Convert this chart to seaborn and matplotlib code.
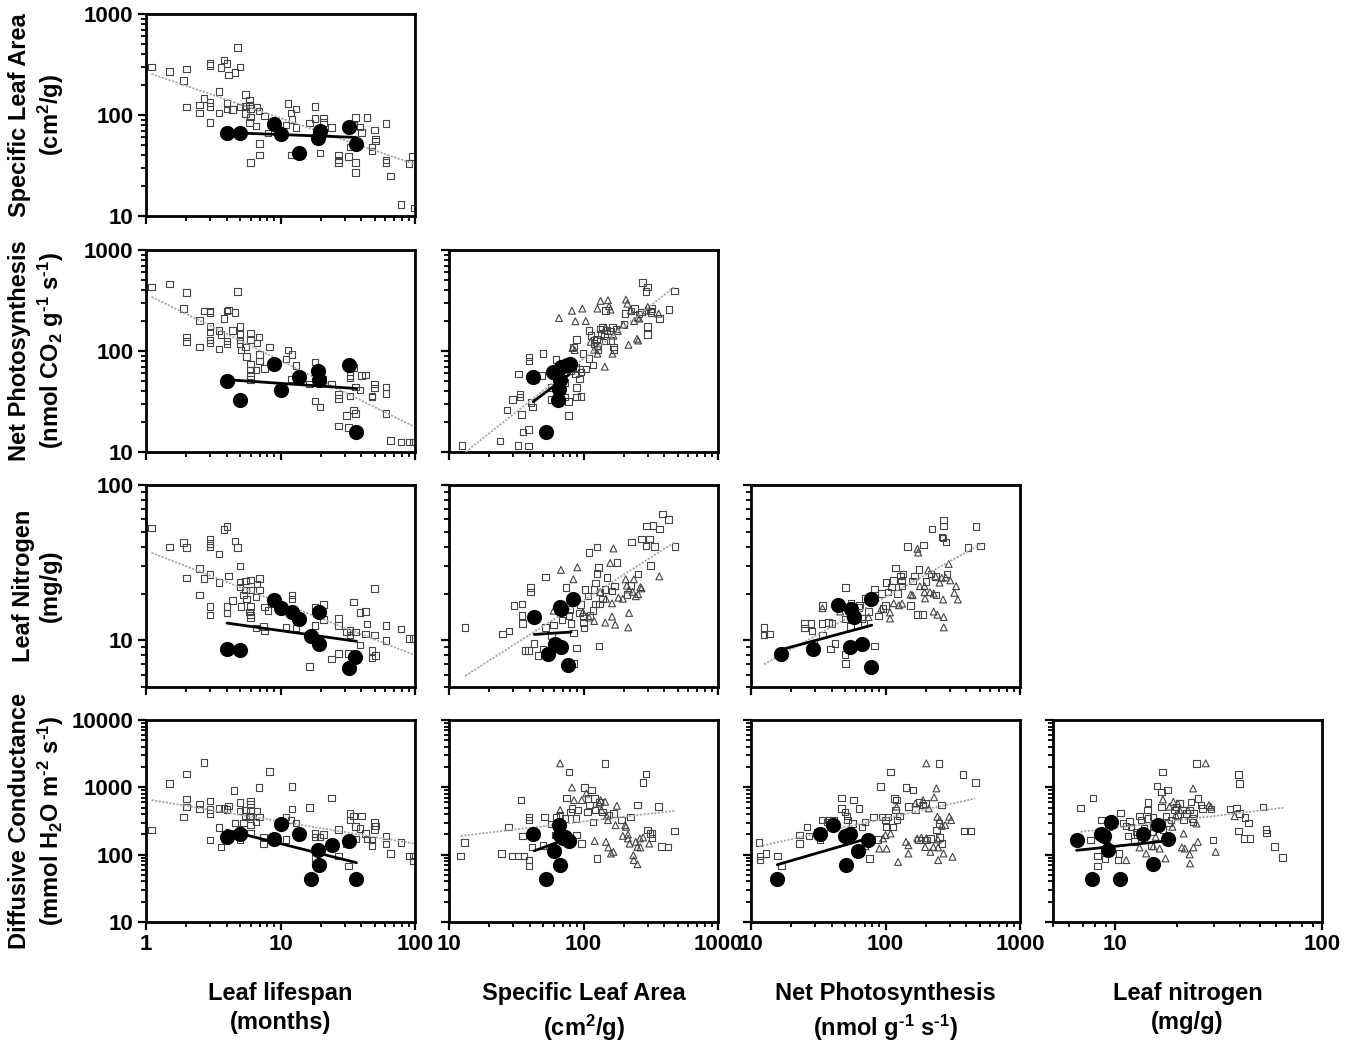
import numpy as np
import matplotlib
matplotlib.use("Agg")
import matplotlib.pyplot as plt
from matplotlib.ticker import LogLocator, NullFormatter, FuncFormatter
import seaborn as sns

# ---- data (x, y) ----
# row 0: specific leaf area vs leaf lifespan
sla_ls_open = [(1.1, 300), (1.5, 270), (1.9, 220), (2.0, 285), (2.0, 120), (2.5, 125), (2.5, 105), (2.7, 145),
               (3.0, 325), (3.0, 310), (3.0, 133), (3.0, 122), (3.0, 84), (3.5, 170), (3.5, 105), (3.6, 295),
               (3.8, 350), (4.0, 325), (4.1, 250), (4.0, 130), (4.0, 115), (4.6, 265), (4.8, 465), (5.0, 300),
               (4.4, 113), (5.0, 120), (5.5, 160), (5.5, 123), (5.5, 104), (5.9, 140), (5.9, 125), (6.0, 116),
               (6.0, 96), (5.9, 84), (6.0, 34), (6.6, 78), (6.7, 120), (6.9, 110), (7.0, 52), (7.0, 40),
               (7.6, 98), (8.1, 66), (11, 80), (11.4, 130), (12, 105), (12.2, 90), (13, 115), (13, 75), (12, 40),
               (16.5, 83), (18, 122), (18, 92), (19.7, 42), (20.8, 93), (20.8, 84), (24, 75), (27, 40), (27, 36),
               (27, 34), (32, 39), (33, 48), (35, 80), (36, 94), (36, 34), (36, 27), (39, 76), (40, 67), (48, 48),
               (48, 44), (50, 71), (51, 58), (51, 55), (44, 94), (61, 82), (61, 36), (61, 34), (66, 25), (79, 13),
               (90, 33), (96, 39), (99, 12)]
sla_ls_filled = [(4.0, 67), (5.0, 66), (9, 81), (10.1, 65), (13.8, 42), (19.6, 70), (19, 59), (32.4, 76), (36.7, 52)]
sla_ls_fit_all = [(1.1, 255), (97, 33)]
sla_ls_fit_sub = [(4.0, 67), (36.7, 60)]

# row 1: net photosynthesis vs leaf lifespan / SLA
an_ls_open = [(1.1, 430), (1.5, 460), (2.0, 380), (1.9, 265), (2.0, 138), (2.0, 124), (2.5, 200), (2.5, 110),
              (2.7, 250), (3.0, 250), (3.0, 240), (3.0, 175), (3.0, 155), (3.0, 128), (3.0, 120), (3.5, 160),
              (3.5, 105), (3.6, 145), (3.8, 210), (4.0, 250), (4.1, 255), (4.0, 125), (4.0, 117), (4.6, 240),
              (4.8, 390), (4.4, 160), (5.0, 175), (5.0, 145), (5.0, 128), (5.0, 118), (5.1, 102), (5.6, 88),
              (5.5, 110), (6.0, 150), (6.0, 128), (6.0, 74), (6.0, 65), (6.0, 57), (6.0, 52), (6.6, 65),
              (6.7, 120), (6.9, 138), (7.0, 92), (7.0, 80), (7.6, 67), (8.3, 110), (11, 83), (11.4, 102),
              (12.2, 92), (12, 53), (13, 72), (16.5, 47), (18, 78), (18, 32), (19.7, 28), (20.6, 52), (24, 47),
              (27, 37), (27, 34), (27, 18), (31, 23), (32, 17.5), (33, 57), (33, 54), (33, 36), (35, 69), (35, 26),
              (36, 24), (36, 44), (39, 41), (40, 57), (43, 58), (48, 36), (48, 35), (50, 47), (50, 43), (61, 44),
              (61, 38), (61, 24), (66, 13), (79, 12.5), (90, 12.5), (97, 12.5)]
an_ls_filled = [(4.0, 51), (5.0, 32.5), (9, 75), (10.1, 41), (13.8, 55), (19, 64), (19.4, 52), (32.4, 72), (36.7, 15.8)]
an_ls_fit_all = [(1.1, 344), (97, 18)]
an_ls_fit_sub = [(4.0, 52), (36.7, 42.5)]

an_sla_open = [(12.5, 11.6), (24, 12.8), (32.6, 11.6), (39, 11.5), (35.5, 15.7), (39, 16.7), (27, 26), (29.6, 33),
               (33, 59), (33.6, 37.5), (33.6, 35), (34.5, 23.5), (39.5, 87), (39.5, 80), (40.6, 31), (41.8, 28),
               (48.9, 57), (50, 94), (57.5, 33), (62.5, 82), (57.5, 43.6), (65, 59), (73, 49), (73, 35),
               (77.5, 31.5), (77.5, 23), (80, 64), (82, 67), (84, 109), (87, 59), (89, 43.6), (87, 68.5),
               (93.5, 66), (93.5, 53), (96, 62), (89, 35), (96, 35.5), (89, 130), (99, 94), (104, 66), (110, 84),
               (110, 160), (114, 142), (118, 73), (120, 118), (120, 129), (125, 132), (127, 112), (128, 103),
               (133, 166), (135, 146), (139, 172), (143, 141), (146, 127), (150, 160), (159, 127), (159, 158),
               (164, 170), (167, 110), (168, 104), (146, 253), (174, 166), (200, 182), (204, 234), (225, 248),
               (240, 263), (259, 232), (270, 244), (275, 477), (292, 390), (300, 431), (300, 145), (300, 175),
               (314, 250), (318, 240), (324, 263), (366, 209), (432, 257), (473, 394)]
an_sla_tri = [(65.7, 212), (82, 250), (87, 197), (98, 263), (104, 198), (83, 107), (86, 102), (127, 263), (134, 313),
              (152, 318), (159, 257), (155, 277), (146, 170), (167, 142), (180, 158), (198, 182), (207, 323),
              (212, 294), (225, 252), (238, 198), (253, 214), (260, 209), (250, 132), (255, 127), (216, 115),
              (164, 94), (144, 70), (128, 111), (120, 103), (113, 123), (127, 94), (292, 252), (362, 234), (300, 273)]
an_sla_filled = [(42.3, 55), (52.5, 15.6), (59, 62.5), (67, 52), (66, 42), (65, 33), (75, 72), (80, 74), (68, 69)]
an_sla_fit_all = [(13.3, 10), (473, 431)]
an_sla_fit_sub = [(42.3, 31.5), (79, 59)]

# row 2: leaf nitrogen vs leaf lifespan / SLA / net photosynthesis
n_ls_open = [(1.1, 53), (1.5, 40), (1.9, 42.5), (2.0, 39.5), (2.0, 25.2), (2.5, 29), (2.5, 19.5), (2.7, 25),
             (3.0, 45), (3.0, 42), (3.0, 40), (3.0, 26.5), (3.0, 16.5), (3.0, 14.5), (3.5, 36), (3.5, 23.5),
             (3.8, 51.5), (4.0, 54), (4.1, 26), (4.0, 16.5), (4.0, 15), (4.6, 43.5), (4.8, 39.5), (4.4, 18),
             (5.0, 30), (5.0, 23.8), (5.0, 22), (5.1, 16.5), (5.3, 19.5), (5.5, 24), (5.5, 21), (5.6, 18.5),
             (5.9, 15.2), (6.0, 24.5), (6.0, 21), (6.0, 16.5), (6.0, 14.5), (6.0, 14), (6.6, 19), (6.7, 23),
             (7.0, 25), (7.0, 21), (6.6, 12), (7.5, 12.3), (7.6, 11.5), (7.6, 16.4), (8.1, 15.5), (11, 12.2),
             (12.2, 19.5), (12.2, 18.5), (13, 12), (16.5, 6.8), (18, 16.4), (18, 12.4), (20.8, 17), (20.8, 13.6),
             (24, 7.6), (27, 8.2), (27, 13.8), (27, 12.4), (31, 11.3), (32, 8.2), (33, 11.6), (33, 10.8),
             (35, 17.6), (36, 11.3), (39, 9.3), (39, 15.1), (43, 15.3), (44, 12.7), (43, 11), (50, 21.5),
             (48, 8.6), (48, 7.7), (50, 10.8), (51, 8), (61, 12.4), (61, 10), (79, 11.8), (90, 10.3), (97, 10.3)]
n_ls_filled = [(4.0, 8.8), (5.0, 8.6), (9, 18.1), (10.1, 16.2), (12.1, 15.1), (13.8, 13.7), (16.8, 10.6),
               (19.2, 9.4), (19.2, 15.3), (32.4, 6.6), (36, 7.8)]
n_ls_fit_all = [(1.1, 36.6), (97, 8.1)]
n_ls_fit_sub = [(4.0, 12.9), (36.7, 9.85)]

n_sla_open = [(13.2, 12.1), (25, 11), (28, 11.5), (30.5, 16.8), (35, 17.1), (35, 14.4), (35.3, 12.8), (36.6, 8.6),
              (39, 8.6), (40.5, 20.4), (40.5, 21.9), (43, 9.5), (46, 8), (50, 8.8), (52, 25.5), (52, 12.1),
              (58, 10.7), (60, 12.5), (74, 21.9), (69, 13.5), (78, 14.4), (79, 15.8), (81, 12.8), (84, 11.1),
              (85, 7.1), (89, 8.9), (93, 15), (95, 17), (99, 14.2), (100, 13), (101, 12), (103, 21.2), (108, 19.3),
              (110, 36.7), (112, 14.4), (118, 15.6), (120, 21.2), (123, 23.3), (123, 17.1), (126, 40), (126, 27),
              (129, 29.5), (130, 9.2), (132, 17.1), (133, 20.4), (138, 18.5), (150, 25.4), (145, 21.2),
              (163, 20.7), (170, 22.3), (178, 31.7), (210, 19.7), (225, 22.5), (228, 43), (255, 26.7),
              (270, 44.8), (292, 40.6), (295, 54.3), (310, 44.8), (315, 30.2), (330, 55), (338, 40.2), (366, 52),
              (386, 65), (430, 60), (480, 40.2)]
n_sla_tri = [(60, 15.5), (68, 28.4), (84, 24.7), (90, 29.5), (158, 31.5), (167, 39), (133, 20.4), (120, 13.3),
             (145, 13), (163, 14.2), (163, 17.3), (172, 12.6), (182, 18.8), (206, 24.7), (210, 22.5), (218, 21.2),
             (218, 15), (215, 12.1), (232, 20.5), (237, 24.7), (245, 19.2), (255, 19.8), (265, 22), (270, 21.6),
             (366, 25.8), (147, 18.5), (196, 18.5), (110, 14), (99, 15.2)]
n_sla_filled = [(43, 14.1), (67, 16.4), (68, 15.8), (83, 18.4), (61, 9.5), (68, 9.0), (54, 8.1), (77, 6.9)]
n_sla_fit_all = [(13.2, 5.9), (480, 43)]
n_sla_fit_sub = [(43, 10.9), (81, 11.3)]

n_an_open = [(12.5, 12.1), (12.5, 10.8), (13.7, 11), (24.9, 12.8), (24.9, 12), (28, 12.8), (28.4, 11.5), (29.5, 9.5),
             (33.7, 12.8), (34, 16.8), (34, 10.8), (37.6, 13), (39, 8.8), (40, 12.8), (42, 9.5), (50.4, 21.9),
             (50, 8.1), (50.4, 7.1), (50, 13.7), (55, 12.3), (55.6, 17.3), (57.6, 15.1), (63.6, 16.2), (64, 16.8),
             (67, 13.8), (69, 12.8), (70.5, 18.6), (74.9, 15.3), (82.6, 21.4), (83, 9.2), (89, 14.3), (93, 20),
             (96, 16), (100, 16.8), (101, 23.5), (104, 20.4), (111, 22.1), (115, 24.2), (119, 29.3), (123, 20),
             (129, 26), (131, 24), (133, 22.3), (135, 26.8), (146, 40.2), (154, 16.8), (159, 24), (164, 26),
             (173, 14.6), (178, 28.6), (188, 14.6), (192, 41), (200, 23.9), (218, 26.8), (221, 52), (235, 25.8),
             (237, 19.5), (264, 46.2), (268, 45.5), (271, 59.3), (271, 54.3), (282, 43), (286, 26.8),
             (410, 39.6), (470, 54), (510, 40.6)]
n_an_tri = [(34, 16.1), (46, 15.3), (59, 13.8), (74.9, 14.1), (93, 16), (108, 13.8), (108, 15.1), (115, 17.3),
            (126, 16.8), (133, 17.2), (159, 19.5), (173, 38.8), (175, 36.7), (180, 22.3), (195, 20.4), (197, 18.6),
            (208, 28.3), (214, 20.4), (228, 20), (228, 15.3), (235, 25.8), (243, 14.6), (252, 23.5), (262, 25.2),
            (268, 18.3), (271, 14.1), (271, 12.1), (280, 25.4), (295, 31), (303, 24.3), (325, 20.2), (335, 22.3),
            (345, 18.3), (154, 19.7), (195, 22.3)]
n_an_filled = [(16.8, 8.1), (29, 8.8), (44, 16.8), (55.6, 16), (58.5, 14.1), (54, 9.0), (67, 9.5), (77.5, 18.5),
               (77.5, 6.7)]
n_an_fit_all = [(12.5, 7.0), (510, 41.5)]
n_an_fit_sub = [(16.8, 8.7), (79, 12.5)]

# row 3: diffusive conductance vs leaf lifespan / SLA / net photosynthesis / leaf nitrogen
g_ls_open = [(1.1, 231), (1.5, 1140), (2.0, 1580), (2.0, 676), (2.0, 514), (1.9, 365), (2.5, 570), (2.5, 474),
             (2.7, 2320), (3.0, 625), (3.0, 470), (3.0, 410), (3.0, 164), (3.5, 485), (3.5, 254), (3.6, 130),
             (3.8, 485), (4.0, 470), (4.1, 530), (4.5, 890), (4.6, 297), (5.0, 600), (5.0, 445), (5.0, 237),
             (5.0, 164), (5.3, 297), (5.5, 458), (5.5, 375), (5.9, 375), (6.0, 630), (6.0, 560), (6.0, 450),
             (6.0, 365), (6.0, 275), (6.0, 211), (6.6, 306), (6.7, 445), (6.9, 990), (7.0, 365), (7.5, 183),
             (7.5, 145), (8.3, 1705), (11, 365), (11, 168), (12, 325), (12.2, 1020), (12.2, 480), (13, 297),
             (16.5, 500), (18, 205), (18, 183), (18, 87), (19.7, 183), (20.8, 200), (24, 700), (27, 237), (27, 96),
             (31, 145), (32, 68), (33, 410), (33, 325), (35, 375), (36, 260), (36, 172), (39, 245), (40, 375),
             (43, 205), (44, 172), (48, 164), (48, 138), (50, 300), (51, 265), (50, 237), (61, 190), (61, 145),
             (66, 104), (79, 152), (90, 96), (97, 81), (97, 96)]
g_ls_filled = [(4.0, 184), (5.0, 200), (9, 168), (10.1, 281), (13.8, 206), (19, 116), (19.4, 70), (17, 44),
               (24, 141), (32.4, 160), (36.7, 44)]
g_ls_fit_all = [(1.1, 646), (97, 147)]
g_ls_fit_sub = [(4.0, 231), (36.7, 76)]

g_sla_open = [(12.2, 96), (13, 151), (24.5, 104), (27.7, 259), (29.3, 96), (32.5, 96), (34.4, 645), (35.3, 188),
              (36, 96), (39.5, 83), (39.5, 68), (39.5, 365), (39.5, 326), (41.5, 130), (50, 138), (51.5, 365),
              (57.5, 284), (62.5, 365), (61.5, 195), (67, 386), (73, 345), (75, 700), (78, 1700), (80, 433),
              (82, 486), (89, 195), (91, 460), (88, 345), (97, 146), (102, 996), (107, 433), (108, 684), (111, 544),
              (115, 910), (118, 307), (121, 684), (122, 460), (126, 87), (131, 610), (138, 433), (145, 2270),
              (153, 386), (167, 410), (191, 326), (224, 365), (252, 544), (278, 1170), (292, 1570), (300, 231),
              (313, 206), (324, 178), (322, 206), (362, 516), (380, 133), (425, 130), (473, 226)]
g_sla_tri = [(67, 2270), (82, 996), (85, 645), (97, 645), (105, 811), (121, 160), (131, 575), (134, 645), (145, 610),
             (149, 373), (152, 326), (147, 155), (153, 128), (160, 104), (167, 110), (173, 274), (177, 532),
             (204, 274), (207, 259), (214, 174), (220, 146), (235, 98), (236, 83), (245, 155), (252, 130),
             (263, 174), (265, 128), (278, 180), (214, 199), (252, 72), (196, 190), (308, 146), (136, 460), (67, 460)]
g_sla_filled = [(42, 206), (53, 44), (60, 114), (66, 274), (67, 195), (70, 174), (67, 71), (78, 160), (73, 185)]
g_sla_fit_all = [(12.2, 190), (473, 448)]
g_sla_fit_sub = [(43, 114), (83, 184)]

g_an_open = [(11.5, 151), (11.7, 83), (11.7, 96), (12.9, 104), (15.7, 96), (16.8, 68), (22.9, 195), (22.9, 146),
             (26, 259), (26.9, 188), (31, 218), (32.6, 164), (33.7, 326), (36.7, 307), (38, 326), (41, 326),
             (47, 700), (47, 486), (50, 433), (51.7, 373), (52.4, 326), (58, 645), (57, 290), (63.5, 486),
             (67, 259), (70.5, 307), (76, 87), (81.4, 365), (88, 168), (91.5, 1020), (94, 365), (100, 326),
             (102, 259), (104, 365), (109, 1700), (113, 259), (117, 684), (119, 458), (121, 645), (122, 326),
             (127, 373), (142, 996), (160, 910), (148, 516), (167, 469), (178, 610), (176, 164), (190, 544),
             (199, 575), (201, 164), (216, 174), (239, 231), (250, 2270), (250, 290), (253, 180), (260, 544),
             (263, 146), (376, 1556), (388, 226), (428, 226), (465, 1170)]
g_an_tri = [(71, 133), (90, 123), (102, 123), (96, 174), (100, 195), (109, 206), (124, 78), (148, 138), (142, 155),
            (148, 104), (167, 575), (172, 174), (185, 180), (190, 645), (197, 130), (201, 2270), (201, 174),
            (216, 110), (227, 130), (239, 963), (243, 365), (245, 168), (246, 128), (246, 83), (253, 326),
            (263, 268), (270, 104), (278, 276), (298, 365), (308, 326), (315, 93), (210, 486), (230, 710), (121, 516)]
g_an_filled = [(15.7, 44), (32.6, 206), (41, 274), (50, 188), (54, 200), (62, 114), (51, 71), (74, 164)]
g_an_fit_all = [(11.5, 133), (465, 684)]
g_an_fit_sub = [(15.7, 71), (78, 180)]

g_n_open = [(6.8, 497), (7.6, 164), (7.8, 700), (8.2, 96), (8.2, 68), (8.6, 326), (8.9, 86), (9.3, 259), (9.1, 138),
            (10.3, 83), (10.4, 104), (10.6, 419), (10.9, 297), (11.3, 265), (11.5, 188), (11.7, 310), (11.9, 259),
            (12.4, 158), (12.6, 218), (12.8, 200), (13.1, 373), (13.3, 326), (13.8, 250), (14.4, 596), (14.3, 458),
            (14.4, 345), (14.9, 138), (15.2, 259), (15.2, 365), (15.2, 218), (15.9, 1043), (16.7, 859),
            (16.9, 1700), (16.7, 514), (17, 237), (17.6, 373), (17.9, 910), (18.1, 297), (18.6, 326), (19.3, 458),
            (19.7, 514), (20.1, 373), (20.5, 575), (21.1, 458), (21.4, 326), (22.1, 410), (22.9, 458), (23.3, 610),
            (23.6, 345), (23.8, 307), (23.9, 410), (24.7, 2270), (25.1, 684), (26, 544), (26.5, 486), (29, 474),
            (29.7, 164), (35.8, 474), (38.6, 497), (39.4, 1556), (39.8, 1140), (39.4, 223), (40, 410), (41.9, 174),
            (42.4, 356), (44, 297), (44.8, 174), (51.8, 514), (53.6, 237), (54, 211), (58.8, 133), (64.5, 90)]
g_n_tri = [(11.3, 83), (13.1, 128), (14.1, 104), (15.3, 133), (15.7, 184), (16.4, 123), (17, 660), (17.5, 88),
           (18.3, 514), (19.1, 610), (19.6, 386), (20.1, 575), (20.5, 458), (21, 128), (21.4, 206), (21.7, 123),
           (22.5, 458), (22.9, 101), (23, 74), (23.8, 961), (23.9, 128), (24.7, 290), (25.1, 155), (27.4, 2270),
           (28.4, 544), (29, 514), (30.6, 110), (37.8, 373), (18.9, 259)]
g_n_filled = [(6.5, 164), (7.7, 44), (8.5, 200), (8.8, 188), (9.5, 310), (9.2, 116), (10.5, 44), (13.6, 204),
              (15.3, 72), (16.1, 274), (17.9, 168)]
g_n_fit_all = [(6.8, 218), (65, 497)]
g_n_fit_sub = [(6.5, 116), (17, 158)]

row_labels = ["Specific Leaf Area\n(cm$^2$/g)",
              "Net Photosynthesis\n(nmol CO$_2$ g$^{\\text{-1}}$ s$^{\\text{-1}}$)",
              "Leaf Nitrogen\n(mg/g)",
              "Diffusive Conductance\n(mmol H$_2$O m$^{\\text{-2}}$ s$^{\\text{-1}}$)"]
col_labels = ["Leaf lifespan\n(months)",
              "Specific Leaf Area\n(cm$^2$/g)",
              "Net Photosynthesis\n(nmol g$^{\\text{-1}}$ s$^{\\text{-1}}$)",
              "Leaf nitrogen\n(mg/g)"]
x_limits = [(1, 100), (10, 1000), (10, 1000), (5, 100)]
y_limits = [(10, 1000), (10, 1000), (5, 100), (10, 10000)]

# (row, col, open squares, open triangles, filled circles, fit all, fit subset)
panels = [
    (0, 0, sla_ls_open, None, sla_ls_filled, sla_ls_fit_all, sla_ls_fit_sub),
    (1, 0, an_ls_open, None, an_ls_filled, an_ls_fit_all, an_ls_fit_sub),
    (1, 1, an_sla_open, an_sla_tri, an_sla_filled, an_sla_fit_all, an_sla_fit_sub),
    (2, 0, n_ls_open, None, n_ls_filled, n_ls_fit_all, n_ls_fit_sub),
    (2, 1, n_sla_open, n_sla_tri, n_sla_filled, n_sla_fit_all, n_sla_fit_sub),
    (2, 2, n_an_open, n_an_tri, n_an_filled, n_an_fit_all, n_an_fit_sub),
    (3, 0, g_ls_open, None, g_ls_filled, g_ls_fit_all, g_ls_fit_sub),
    (3, 1, g_sla_open, g_sla_tri, g_sla_filled, g_sla_fit_all, g_sla_fit_sub),
    (3, 2, g_an_open, g_an_tri, g_an_filled, g_an_fit_all, g_an_fit_sub),
    (3, 3, g_n_open, g_n_tri, g_n_filled, g_n_fit_all, g_n_fit_sub),
]

sns.set_style("ticks")
plt.rcParams["font.family"] = ["Liberation Sans", "DejaVu Sans"]
plt.rcParams["font.weight"] = "bold"
plt.rcParams["text.color"] = "black"
plt.rcParams["axes.labelcolor"] = "black"
plt.rcParams["xtick.color"] = "black"
plt.rcParams["ytick.color"] = "black"
plt.rcParams["mathtext.fontset"] = "custom"
plt.rcParams["mathtext.rm"] = "Liberation Sans:bold"
plt.rcParams["mathtext.it"] = "Liberation Sans:bold"
plt.rcParams["mathtext.bf"] = "Liberation Sans:bold"
plt.rcParams["mathtext.default"] = "rm"

FW, FH = 1350, 1041
fig = plt.figure(figsize=(FW / 100, FH / 100), dpi=100)

col_left = [146, 449, 751, 1053]
row_top = [14, 250, 485, 720]
AW, AH = 269, 202


def fmt(v, pos):
    return f"{v:g}"


for r, c, sq, tri, filled, fit_all, fit_sub in panels:
    ax = fig.add_axes([col_left[c] / FW, 1 - (row_top[r] + AH) / FH, AW / FW, AH / FH])
    ax.set_xscale("log")
    ax.set_yscale("log")

    sq = np.array(sq)
    sns.scatterplot(x=sq[:, 0], y=sq[:, 1], marker="s", s=22, facecolors="none",
                    edgecolor="#454545", linewidth=0.8, ax=ax, zorder=2)
    if tri is not None:
        tri = np.array(tri)
        sns.scatterplot(x=tri[:, 0], y=tri[:, 1], marker="^", s=24, facecolors="none",
                        edgecolor="#454545", linewidth=0.8, ax=ax, zorder=2)
    fa = np.array(fit_all)
    sns.lineplot(x=fa[:, 0], y=fa[:, 1], color="#a8a8a8", linewidth=1.3, linestyle=(0, (1.2, 0.8)),
                 estimator=None, sort=False, ax=ax, zorder=3)
    fl = np.array(filled)
    sns.scatterplot(x=fl[:, 0], y=fl[:, 1], marker="o", s=120, color="black",
                    edgecolor="black", linewidth=0, ax=ax, zorder=4)
    fs = np.array(fit_sub)
    sns.lineplot(x=fs[:, 0], y=fs[:, 1], color="black", linewidth=2.0,
                 estimator=None, sort=False, ax=ax, zorder=5)

    ax.set_xlim(*x_limits[c])
    ax.set_ylim(*y_limits[r])
    for axis in (ax.xaxis, ax.yaxis):
        axis.set_major_locator(LogLocator(base=10, numticks=10))
        axis.set_minor_locator(LogLocator(base=10, subs=np.arange(2, 10), numticks=30))
        axis.set_major_formatter(FuncFormatter(fmt))
        axis.set_minor_formatter(NullFormatter())
    ax.tick_params(which="major", direction="out", length=6, width=1.6, labelsize=16, pad=3, colors="black")
    ax.tick_params(which="minor", direction="out", length=3.5, width=1.3, colors="black")
    ax.tick_params(labelbottom=(r == 3), labelleft=(c == 0))
    for s in ax.spines.values():
        s.set_linewidth(2)
        s.set_color("black")
    ax.set_xlabel("")
    ax.set_ylabel("")

for r, lab in enumerate(row_labels):
    fig.text(37 / FW, 1 - (row_top[r] + AH / 2) / FH, lab, rotation=90, ha="center", va="center",
             multialignment="center", fontsize=17, fontweight="bold", linespacing=1.25, color="black")

for c, lab in enumerate(col_labels):
    fig.text((col_left[c] + AW / 2) / FW, 1 - 982 / FH, lab, ha="center", va="top",
             multialignment="center", fontsize=17, fontweight="bold", linespacing=1.35, color="black")

fig.savefig("out.png", dpi=100)
